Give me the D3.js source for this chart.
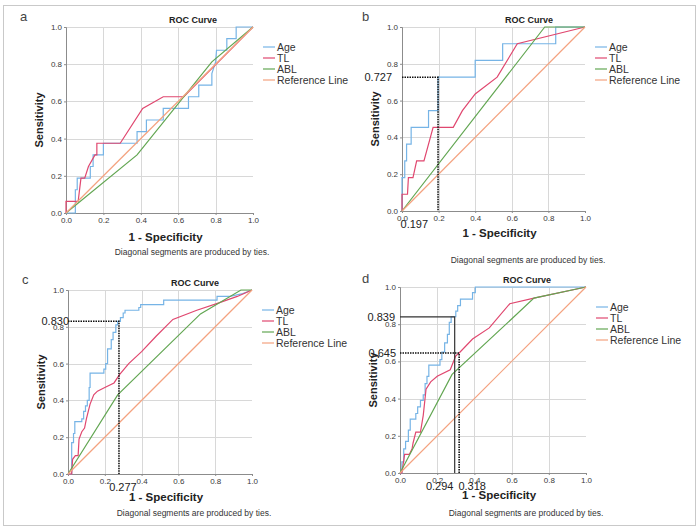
<!DOCTYPE html>
<html>
<head>
<meta charset="utf-8">
<script src="https://cdn.jsdelivr.net/npm/d3@7"></script>
<style>
  body { margin: 0; background: #fff; }
  svg { display: block; font-family: "Liberation Sans", Arial, sans-serif; }
</style>
</head>
<body>
<div id="chart"></div>
<script>
// four ROC panels (a-d), SPSS style
/*global d3 */

var seriesNames = ["Age", "TL", "ABL", "Reference Line"];
var seriesColors = ["#76b4e6", "#e0476f", "#62a652", "#f4a27f"];
var ticks = [0, 0.2, 0.4, 0.6, 0.8, 1.0];
var refLine = [[0, 0], [1, 1]];

// panel a  [1 - specificity, sensitivity]
var ageA = [[0,0],[0.05,0],[0.05,0.125],[0.06,0.125],[0.06,0.1875],[0.13,0.1875],[0.13,0.25],[0.145,0.25],[0.145,0.3125],[0.2,0.3125],[0.2,0.375],[0.38,0.375],[0.38,0.4375],[0.43,0.4375],[0.43,0.5],[0.52,0.5],[0.52,0.5625],[0.655,0.5625],[0.655,0.625],[0.71,0.625],[0.71,0.6875],[0.78,0.6875],[0.78,0.75],[0.8,0.8125],[0.805,0.875],[0.86,0.875],[0.86,0.9375],[0.91,0.9375],[0.91,1],[1,1]];
var tlA = [[0,0],[0,0.0625],[0.065,0.0625],[0.08,0.1875],[0.1,0.1875],[0.12,0.25],[0.155,0.3125],[0.165,0.3125],[0.165,0.375],[0.29,0.375],[0.41,0.5625],[0.52,0.625],[0.63,0.625],[1,1]];
var ablA = [[0,0],[0.38,0.3125],[0.78,0.8125],[1,1]];

// panel b
var ageB = [[0,0],[0,0.1818],[0.015,0.1818],[0.015,0.2727],[0.025,0.2727],[0.025,0.3636],[0.05,0.3636],[0.05,0.4545],[0.145,0.4545],[0.145,0.5455],[0.197,0.5455],[0.197,0.7273],[0.4,0.7273],[0.4,0.8182],[0.55,0.8182],[0.55,0.9091],[0.84,0.9091],[0.84,1],[1,1]];
var tlB = [[0,0],[0,0.0909],[0.03,0.0909],[0.035,0.1818],[0.06,0.1818],[0.08,0.2727],[0.12,0.2727],[0.17,0.4545],[0.28,0.4545],[0.33,0.5455],[0.4,0.6364],[0.52,0.7273],[0.63,0.9091],[1,1]];
var ablB = [[0,0],[0.78,1],[1,1]];

// panel c
var ageC = [[0,0],[0.02,0],[0.02,0.17],[0.03,0.17],[0.03,0.22],[0.037,0.22],[0.037,0.285],[0.075,0.285],[0.075,0.3],[0.085,0.3],[0.085,0.34],[0.095,0.34],[0.095,0.37],[0.105,0.37],[0.105,0.4],[0.115,0.4],[0.115,0.47],[0.12,0.47],[0.12,0.548],[0.195,0.548],[0.195,0.57],[0.205,0.57],[0.205,0.6],[0.215,0.6],[0.215,0.68],[0.235,0.68],[0.235,0.73],[0.245,0.73],[0.245,0.77],[0.26,0.77],[0.26,0.81],[0.27,0.81],[0.27,0.83],[0.285,0.83],[0.285,0.85],[0.3,0.85],[0.3,0.875],[0.31,0.875],[0.31,0.89],[0.385,0.89],[0.385,0.905],[0.395,0.905],[0.395,0.92],[0.52,0.92],[0.52,0.945],[0.81,0.945],[0.81,0.965],[0.88,0.965],[0.95,0.98],[1,1]];
var tlC = [[0,0],[0.02,0],[0.025,0.08],[0.04,0.1],[0.055,0.1],[0.06,0.19],[0.075,0.23],[0.09,0.25],[0.1,0.3],[0.12,0.38],[0.14,0.43],[0.16,0.45],[0.2,0.47],[0.25,0.495],[0.28,0.54],[0.33,0.6],[0.4,0.665],[0.48,0.75],[0.57,0.84],[0.7,0.89],[0.82,0.93],[0.92,0.965],[1,1]];
var ablC = [[0,0],[0.27,0.43],[0.72,0.87],[0.94,1],[1,1]];

// panel d
var ageD = [[0,0],[0.01,0],[0.01,0.06],[0.02,0.06],[0.02,0.13],[0.03,0.13],[0.03,0.17],[0.045,0.17],[0.045,0.23],[0.055,0.23],[0.055,0.29],[0.085,0.29],[0.085,0.32],[0.095,0.32],[0.095,0.355],[0.11,0.355],[0.11,0.39],[0.125,0.39],[0.125,0.42],[0.135,0.42],[0.135,0.48],[0.145,0.48],[0.145,0.52],[0.155,0.52],[0.155,0.58],[0.215,0.58],[0.215,0.61],[0.225,0.61],[0.225,0.65],[0.24,0.65],[0.24,0.7],[0.255,0.7],[0.255,0.745],[0.265,0.745],[0.265,0.81],[0.275,0.81],[0.275,0.84],[0.3,0.84],[0.3,0.87],[0.31,0.87],[0.31,0.9],[0.325,0.9],[0.325,0.935],[0.39,0.935],[0.39,0.97],[0.405,0.97],[0.405,1],[1,1]];
var tlD = [[0,0],[0.01,0],[0.025,0.1],[0.05,0.1],[0.065,0.13],[0.07,0.16],[0.085,0.22],[0.11,0.22],[0.125,0.31],[0.14,0.45],[0.165,0.49],[0.2,0.52],[0.27,0.555],[0.3,0.63],[0.318,0.645],[0.39,0.72],[0.48,0.78],[0.59,0.91],[0.72,0.94],[1,1]];
var ablD = [[0,0],[0.28,0.53],[0.72,0.94],[1,1]];

// cut-off markers: [1 - specificity, sensitivity]
var cutB = [[0.197, 0.727]];
var cutC = [[0.277, 0.830]];
var cutD = [[0.294, 0.839], [0.318, 0.645]];

(function () {
  "use strict";

  var W = 700, H = 530;

  var svg = d3.select("#chart").append("svg")
    .attr("width", W)
    .attr("height", H);

  svg.append("rect")
    .attr("x", 3.5).attr("y", 5.5)
    .attr("width", 692).attr("height", 520)
    .attr("fill", "none")
    .attr("stroke", "#c9c9c9");

  // plot boxes and text placement, per panel
  var panels = [
    { tag: "a", L: 66, T: 27, w: 187, h: 186, tagX: 20, tagY: 21, xtY: 24, diagY: 39,
      series: [ageA, tlA, ablA], cuts: [], cutLbl: [] },
    { tag: "b", L: 402, T: 27, w: 183, h: 184, tagX: 362, tagY: 21, xtY: 22, diagY: 49,
      series: [ageB, tlB, ablB], cuts: cutB,
      cutLbl: [{ yx: -10, xx: -10, xa: "end", dash: true }] },
    { tag: "c", L: 68, T: 290, w: 184, h: 184, tagX: 22, tagY: 284, xtY: 23, diagY: 39,
      series: [ageC, tlC, ablC], cuts: cutC,
      cutLbl: [{ yx: 1, xx: 4, xa: "middle", dash: true }] },
    { tag: "d", L: 400, T: 287, w: 186, h: 186, tagX: 362, tagY: 283, xtY: 22, diagY: 40,
      series: [ageD, tlD, ablD], cuts: cutD,
      cutLbl: [{ yx: -5, xx: -15, xa: "middle", dash: false },
               { yx: -4, xx: 13, xa: "middle", dash: true }] }
  ];

  var fmt = d3.format(".1f");
  var cutFmt = d3.format(".3f");

  panels.forEach(function (p) {
    var B = p.T + p.h, R = p.L + p.w;
    var x = d3.scaleLinear().domain([0, 1]).range([p.L, R]);
    var y = d3.scaleLinear().domain([0, 1]).range([B, p.T]);
    var g = svg.append("g").attr("class", "panel-" + p.tag);

    // grid
    g.selectAll(".hgrid").data(ticks.slice(1)).enter().append("line")
      .attr("x1", p.L).attr("x2", R)
      .attr("y1", function (d) { return Math.round(y(d)) + 0.5; })
      .attr("y2", function (d) { return Math.round(y(d)) + 0.5; })
      .attr("stroke", "#d8d8d8");
    g.selectAll(".vgrid").data(ticks.slice(1, 5)).enter().append("line")
      .attr("y1", p.T).attr("y2", B)
      .attr("x1", function (d) { return Math.round(x(d)) + 0.5; })
      .attr("x2", function (d) { return Math.round(x(d)) + 0.5; })
      .attr("stroke", "#d8d8d8");

    // axes
    var ax = g.append("g").attr("transform", "translate(0," + B + ")")
      .call(d3.axisBottom(x).tickValues(ticks).tickFormat(fmt).tickSize(2).tickPadding(2));
    var ay = g.append("g").attr("transform", "translate(" + p.L + ",0)")
      .call(d3.axisLeft(y).tickValues(ticks).tickFormat(fmt).tickSize(2).tickPadding(2));
    [ax, ay].forEach(function (a) {
      a.select(".domain").attr("stroke", "#8c8c8c");
      a.selectAll(".tick line").attr("stroke", "#8c8c8c");
      a.selectAll(".tick text")
        .attr("font-size", 8)
        .attr("font-family", "Liberation Sans, Arial, sans-serif")
        .attr("fill", "#3a3a3a");
    });

    // curves
    var line = d3.line()
      .x(function (d) { return x(d[0]); })
      .y(function (d) { return y(d[1]); });
    var all = p.series.concat([refLine]);
    g.selectAll(".roc").data(all).enter().append("path")
      .attr("d", line)
      .attr("fill", "none")
      .attr("stroke", function (d, i) { return seriesColors[i]; })
      .attr("stroke-width", 1.2);

    // cut-off guides
    p.cuts.forEach(function (c, i) {
      var lb = p.cutLbl[i];
      var pts = [[0, c[1]], [c[0], c[1]], [c[0], 0]];
      g.append("path")
        .attr("d", line(pts))
        .attr("fill", "none")
        .attr("stroke", lb.dash ? "#111" : "#333")
        .attr("stroke-width", lb.dash ? 1.6 : 1.2)
        .attr("stroke-dasharray", lb.dash ? "1.5,1" : null);
      g.append("text")
        .attr("x", p.L + lb.yx)
        .attr("y", y(c[1]) + 4)
        .attr("text-anchor", "end")
        .attr("font-size", 11)
        .attr("fill", "#222")
        .text(cutFmt(c[1]));
      g.append("text")
        .attr("x", x(c[0]) + lb.xx)
        .attr("y", B + 17)
        .attr("text-anchor", lb.xa)
        .attr("font-size", 11)
        .attr("fill", "#222")
        .text(cutFmt(c[0]));
    });

    // titles
    g.append("text")
      .attr("x", p.L + 127).attr("y", p.T - 4)
      .attr("text-anchor", "middle")
      .attr("font-size", 9).attr("font-weight", "bold").attr("fill", "#222")
      .text("ROC Curve");
    g.append("text")
      .attr("transform", "translate(" + (p.L - 23) + "," + (p.T + p.h / 2) + ") rotate(-90)")
      .attr("text-anchor", "middle")
      .attr("font-size", 11).attr("font-weight", "bold").attr("fill", "#222")
      .text("Sensitivity");
    g.append("text")
      .attr("x", p.L + p.w / 2 + 6).attr("y", B + p.xtY + 4)
      .attr("text-anchor", "middle")
      .attr("font-size", 11.5).attr("font-weight", "bold").attr("fill", "#222")
      .text("1 - Specificity");
    g.append("text")
      .attr("x", p.L + 126).attr("y", B + p.diagY + 3)
      .attr("text-anchor", "middle")
      .attr("font-size", 8.5).attr("fill", "#333")
      .text("Diagonal segments are produced by ties.");
    g.append("text")
      .attr("x", p.tagX).attr("y", p.tagY)
      .attr("font-size", 13).attr("fill", "#444")
      .text(p.tag);

    // legend
    var lg = g.selectAll(".leg").data(seriesNames).enter().append("g")
      .attr("transform", function (d, i) { return "translate(" + R + "," + (p.T + 20 + i * 11) + ")"; });
    lg.append("line")
      .attr("x1", 10).attr("x2", 22)
      .attr("stroke", function (d, i) { return seriesColors[i]; })
      .attr("stroke-width", 1.2);
    lg.append("text")
      .attr("x", 24).attr("y", 4)
      .attr("font-size", 10.5).attr("fill", "#333")
      .text(function (d) { return d; });
  });
})();
</script>
</body>
</html>
